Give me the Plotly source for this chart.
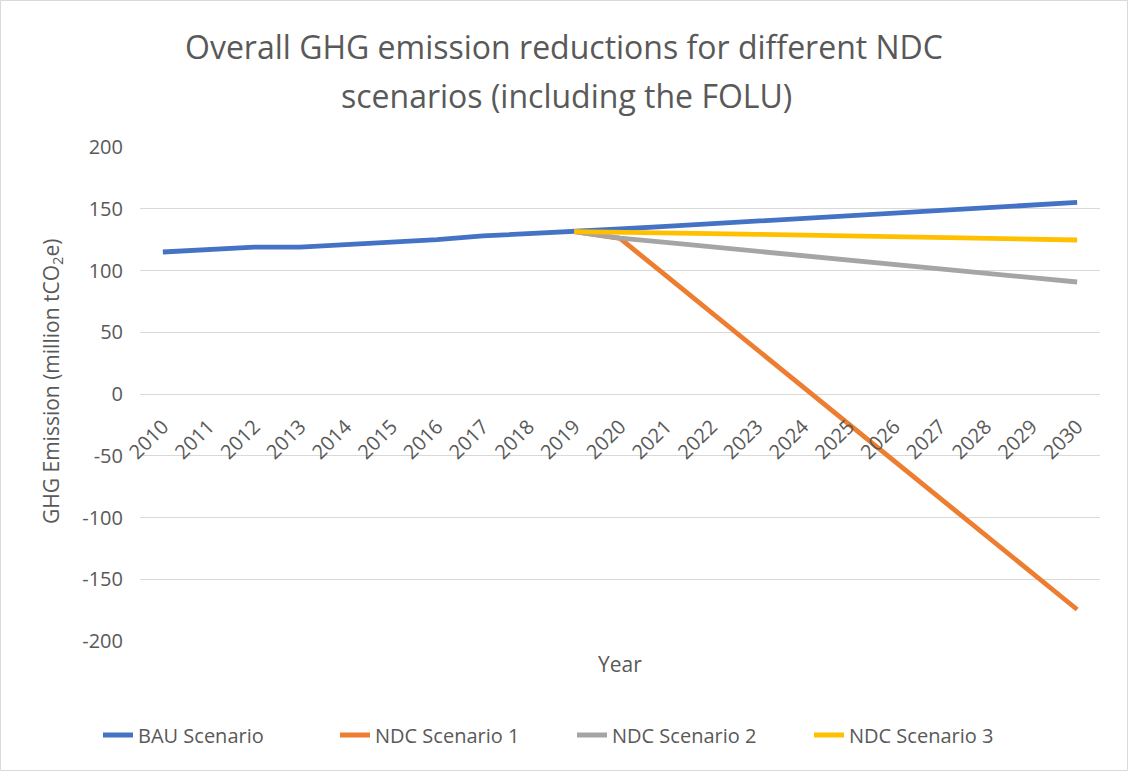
import plotly.graph_objects as go

# ---- data -------------------------------------------------------------
years = [str(y) for y in range(2010, 2031)]

bau = [115.0, 116.6, 119.0, 119.0, 121.0, 123.0, 125.0, 128.0, 129.6, 131.4,
       133.6, 135.7, 137.8, 139.9, 142.0, 144.1, 146.2, 148.4, 150.6, 152.8, 155.1]

ndc_years = years[9:]  # scenarios branch off in 2019
ndc1 = [131.4, 126.0, 96.0, 66.0, 36.0, 6.0, -24.0, -54.0, -84.0, -114.0, -144.0, -174.5]
ndc2 = [131.4, 126.3, 122.7, 119.2, 115.6, 112.1, 108.5, 105.0, 101.4, 97.8, 94.3, 90.7]
ndc3 = [131.4, 131.2, 130.6, 129.9, 129.3, 128.7, 128.1, 127.4, 126.8, 126.1, 125.4, 124.7]

series_names = ["BAU Scenario", "NDC Scenario 1", "NDC Scenario 2", "NDC Scenario 3"]
colors = ["#4472C4", "#ED7D31", "#A5A5A5", "#FFC000"]

y_ticks = [-200, -150, -100, -50, 0, 50, 100, 150, 200]
y_tick_text = ["-200", "-150", "-100", "-50", "0", "50", "100", "150", "200"]

# ---- layout geometry (pixels) ----------------------------------------
FIG_W, FIG_H = 1128, 771
L, R, T, B = 140, 28, 147, 130
PW, PH = FIG_W - L - R, FIG_H - T - B


def px_x(px):
    return (px - L) / PW


def px_y(py):
    return (FIG_H - B - py) / PH


TEXT = "#595959"
FONT = "Open Sans"

fig = go.Figure()
fig.add_trace(go.Scatter(x=years, y=bau, mode="lines", name=series_names[0],
                         line=dict(color=colors[0], width=4.8)))
for name, vals, col in zip(series_names[1:], [ndc1, ndc2, ndc3], colors[1:]):
    fig.add_trace(go.Scatter(x=ndc_years, y=vals, mode="lines", name=name,
                             line=dict(color=col, width=4.8)))

fig.update_layout(
    width=FIG_W, height=FIG_H,
    margin=dict(l=L, r=R, t=T, b=B, autoexpand=False),
    paper_bgcolor="white", plot_bgcolor="white",
    font=dict(family=FONT, color=TEXT, size=20),
    showlegend=True,
    legend=dict(orientation="h", xref="container", x=(108 - 10) / FIG_W, xanchor="left",
                yref="container", y=(FIG_H - 735) / FIG_H, yanchor="middle",
                font=dict(size=20, color=TEXT), traceorder="normal",
                entrywidth=192),
    xaxis=dict(type="category", categoryorder="array", categoryarray=years,
               range=[-0.5, len(years) - 0.5], anchor="free", position=0.5,
               showgrid=False, showline=False, ticks="", tickangle=-45,
               tickfont=dict(size=20, color=TEXT), ticklabelstandoff=16),
    yaxis=dict(range=[-200, 200], tickvals=y_ticks, ticktext=y_tick_text,
               showgrid=True, gridcolor="#D9D9D9",
               gridwidth=1, zeroline=False, showline=False, ticks="",
               tickfont=dict(size=20, color=TEXT), ticklabelstandoff=16),
)

annotations = [
    dict(text="Overall GHG emission reductions for different NDC", x=px_x(564), y=px_y(46),
         font=dict(size=32, color=TEXT)),
    dict(text="scenarios (including the FOLU)", x=px_x(566), y=px_y(96),
         font=dict(size=32, color=TEXT)),
    dict(text="GHG Emission (million tCO<sub>2</sub>e)", x=px_x(52), y=px_y(382),
         textangle=-90, font=dict(size=21, color=TEXT)),
    dict(text="Year", x=px_x(620), y=px_y(664), font=dict(size=21, color=TEXT)),
]
for a in annotations:
    a.update(xref="paper", yref="paper", showarrow=False, xanchor="center", yanchor="middle")
fig.update_layout(annotations=annotations)

# light frame around the whole chart
fig.add_shape(type="rect", xref="paper", yref="paper",
              x0=px_x(0.5), x1=px_x(FIG_W - 0.5), y0=px_y(FIG_H - 0.5), y1=px_y(0.5),
              line=dict(color="#D9D9D9", width=1), layer="below")

fig.write_html("out.html")
